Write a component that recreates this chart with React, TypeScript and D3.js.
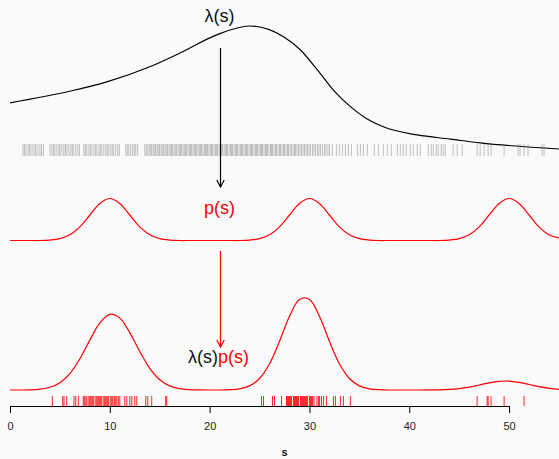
import React, { useEffect, useRef } from 'react';
import * as d3 from 'd3';

// intensity lambda(s)
const lambdaS = [0, 6.1, 9.7, 14, 17.3, 20.7, 24, 27.4, 29.1, 30.8, 32.4, 34.1, 35.7, 37.4, 40.8, 44.1, 47.1, 55];
const lambdaV = [2.8, 3.29, 3.67, 4.3, 4.93, 5.63, 6.0, 5.55, 5.0, 4.17, 3.33, 2.64, 2.15, 1.8, 1.46, 1.29, 1.13, 0.875];

// s grid for the red curves (0..56)
const sGrid = d3.range(0, 57);
const pValues = [
  0, 0, 0, 0, 0.011, 0.044, 0.135, 0.325, 0.607, 0.883, 1, 0.883, 0.607, 0.325, 0.135, 0.044, 0.011,
  0, 0, 0, 0, 0, 0, 0,
  0.011, 0.044, 0.135, 0.325, 0.607, 0.883, 1, 0.883, 0.607, 0.325, 0.135, 0.044, 0.011,
  0, 0, 0, 0, 0, 0, 0,
  0.011, 0.044, 0.135, 0.325, 0.607, 0.883, 1, 0.883, 0.607, 0.325, 0.135, 0.06, 0.02
];
const lpValues = [
  0, 0, 0.1, 0.8, 2.7, 7.3, 16.4, 31.2, 49.9, 67.1, 75.7, 71.9, 57.4, 38.5, 21.7, 10.3, 4.1, 1.4, 0.4, 0.1,
  0, 0, 0.3, 1.2, 4.1, 11.5, 26.2, 48.7, 73.7, 90.6, 90.6, 73.7, 48.7, 26.2, 11.5, 4.1, 1.2, 0.3,
  0, 0, 0, 0, 0.1, 0.2, 0.6, 1.4, 2.9, 5.0, 7.2, 8.7, 8.9, 7.6, 5.5, 3.3, 1.7, 0.7, 0.3
];

// all points of the process (grey rug)
const allPoints = [
  1.3, 1.45, 1.6, 1.8, 1.95, 2.1, 2.3, 2.5, 2.6, 2.8, 3.0, 3.15, 3.35,
  4.0, 4.2, 4.35, 4.5, 4.7, 4.9, 5.0, 5.2, 5.4, 5.55, 5.7, 5.9, 6.1, 6.25, 6.4, 6.6, 6.8, 6.95,
  7.4, 7.55, 7.7, 7.9, 8.05, 8.2, 8.4, 8.55, 8.7, 8.9, 9.05, 9.2, 9.4, 9.6, 9.75, 9.9, 10.1, 10.25,
  10.4, 10.6, 10.8, 10.95, 11.6, 11.75, 11.9, 12.1, 12.3, 12.45, 12.6, 12.8,
  13.5, 13.65, 13.8, 13.95, 14.1, 14.2, 14.35, 14.5, 14.6, 14.75, 14.9, 15.0, 15.15, 15.3, 15.4,
  15.55, 15.7, 15.8, 15.95, 16.1, 16.2, 16.3, 16.45, 16.6, 16.7, 16.85, 17.0, 17.1, 17.2, 17.35,
  17.5, 17.6, 17.7, 17.85, 18.0, 18.1, 18.2, 18.35, 18.5, 18.6, 18.7, 18.85, 19.0, 19.1, 19.2,
  19.35, 19.5, 19.6, 19.7, 19.8, 19.95, 20.1, 20.2, 20.3, 20.45, 20.6, 20.7, 20.8, 20.95, 21.1,
  21.2, 21.3, 21.45, 21.6, 21.7, 21.8, 21.95, 22.1, 22.2, 22.3, 22.45, 22.6, 22.7, 22.8, 22.95,
  23.1, 23.2, 23.3, 23.45, 23.6, 23.7, 23.8, 23.95, 24.1, 24.2, 24.3, 24.45, 24.6, 24.7, 24.8,
  24.95, 25.1, 25.2, 25.3, 25.45, 25.6, 25.7, 25.8, 25.95, 26.1, 26.2, 26.3, 26.45, 26.6, 26.7,
  26.85, 27.0, 27.1, 27.25, 27.4, 27.5, 27.65, 27.8, 27.9, 28.05, 28.2, 28.35, 28.5, 28.6, 28.75,
  28.9, 29.05, 29.2, 29.35, 29.5, 29.65, 29.8, 29.95, 30.1, 30.3, 30.45, 30.6, 30.8, 30.95, 31.1,
  31.3, 31.5, 31.65, 31.85, 32.0,
  32.3, 32.7, 33.0, 33.3, 33.6, 33.9, 34.2, 34.8, 35.1, 35.4, 35.8, 36.5, 36.9, 37.4, 37.8, 38.2,
  38.8, 39.1, 39.4, 39.7, 40.1, 40.4, 40.8, 41.1, 41.9, 42.2, 42.4, 42.7, 42.9, 43.2, 43.4, 43.6,
  44.4, 44.8, 45.3, 46.8, 47.1, 47.5, 47.9, 48.2, 49.5, 50.9, 51.1, 51.5, 51.9, 53.3, 53.5
];

// retained (thinned) points (red rug)
const keptPoints = [
  4.24, 5.28, 5.41, 5.68, 6.41, 6.58, 6.84,
  7.34, 7.45, 7.6, 7.7, 7.9, 8.0, 8.1, 8.2, 8.3, 8.4, 8.6, 8.7, 8.8, 8.9, 9.0, 9.1,
  9.2, 9.4, 9.5, 9.6, 9.7, 9.8, 9.9, 10.1, 10.2, 10.3, 10.45, 10.55, 10.7, 10.85, 11.0,
  11.5, 11.7, 12.0, 12.2, 12.5, 12.7, 13.6, 13.8, 14.2, 15.6, 15.7,
  25.2, 25.4, 26.3, 26.5, 27.2,
  27.7, 27.8, 27.9, 28.0, 28.1, 28.2, 28.4, 28.5, 28.6, 28.7, 28.8, 28.9, 29.1, 29.2,
  29.3, 29.4, 29.5, 29.6, 29.7, 29.8, 30.0, 30.1, 30.2, 30.3, 30.45, 30.75, 30.9, 31.0,
  31.2, 31.4, 31.7,
  32.4, 32.6, 33.1, 33.4, 34.1,
  46.8, 47.8, 47.9, 48.2, 49.5, 51.5
];

const xTicks = [0, 10, 20, 30, 40, 50];
const arrowS = 21;

const W = 559;
const H = 459;
const FONT = '"Liberation Sans", Arial, Helvetica, sans-serif';

const App = () => {
  const axisRef = useRef<SVGGElement>(null);

  const x = d3.scaleLinear().domain([0, 55]).range([10, 559]);
  const yLambda = d3.scaleLinear().domain([0, 6]).range([170, 26]);
  const yP = d3.scaleLinear().domain([0, 1]).range([240.5, 198.5]);
  const yLP = d3.scaleLinear().domain([0, 100]).range([390, 290]);

  const lambdaLine = d3
    .line<number>()
    .x((d, i) => x(lambdaS[i]))
    .y((d) => yLambda(d))
    .curve(d3.curveMonotoneX);

  const gridLine = (yScale: d3.ScaleLinear<number, number>) =>
    d3
      .line<number>()
      .x((d, i) => x(sGrid[i]))
      .y((d) => yScale(d))
      .curve(d3.curveCatmullRom);

  useEffect(() => {
    const g = d3.select(axisRef.current);
    g.call(
      d3
        .axisBottom(x)
        .tickValues(xTicks)
        .tickSize(7)
        .tickSizeOuter(0)
        .tickPadding(9.5)
    );
    g.select('.domain').attr('d', `M${x(0)},0.5H${x(50)}`).attr('stroke', '#000');
    g.selectAll('.tick line').attr('stroke', '#000');
    g.selectAll('.tick text')
      .attr('fill', '#222')
      .style('font-family', FONT)
      .style('font-size', '11px');
  }, []);

  const ax = Math.round(x(arrowS)) + 0.5;
  const head = (tipY: number) => `M${ax - 3.7},${tipY - 7}L${ax},${tipY}L${ax + 3.7},${tipY - 7}`;

  return (
    <svg
      width={W}
      height={H}
      style={{ position: 'absolute', left: 0, top: 0, display: 'block' }}
      fontFamily={FONT}
    >
      <rect width={W} height={H} fill="#fafafa" />

      {/* lambda(s) */}
      <path d={lambdaLine(lambdaV) || ''} fill="none" stroke="#000" strokeWidth={1.2} />
      <text x={x(arrowS)} y={22} textAnchor="middle" fontSize={18} fill="#111">
        λ(s)
      </text>

      {/* grey rug of all points */}
      <g stroke="#777" strokeOpacity={0.45} strokeWidth={1}>
        {allPoints.map((s, i) => (
          <line key={i} x1={x(s)} x2={x(s)} y1={144} y2={156} />
        ))}
      </g>

      {/* arrow lambda -> p */}
      <line x1={ax} x2={ax} y1={48} y2={187} stroke="#000" strokeWidth={1.2} />
      <path d={head(187)} fill="none" stroke="#000" strokeWidth={1.2} />

      {/* p(s) */}
      <path d={gridLine(yP)(pValues) || ''} fill="none" stroke="red" strokeWidth={1.2} />
      <text x={x(arrowS)} y={214} textAnchor="middle" fontSize={18} fill="red">
        p(s)
      </text>

      {/* arrow p -> lambda p */}
      <line x1={ax} x2={ax} y1={251} y2={347} stroke="red" strokeWidth={1.2} />
      <path d={head(347)} fill="none" stroke="red" strokeWidth={1.2} />

      {/* lambda(s) p(s) */}
      <path d={gridLine(yLP)(lpValues) || ''} fill="none" stroke="red" strokeWidth={1.2} />
      <text x={x(arrowS) - 1} y={362.5} textAnchor="middle" fontSize={18}>
        <tspan fill="#111">λ(s)</tspan>
        <tspan fill="red">p(s)</tspan>
      </text>

      {/* red rug of retained points */}
      <g stroke="red" strokeOpacity={0.85} strokeWidth={1}>
        {keptPoints.map((s, i) => (
          <line key={i} x1={x(s)} x2={x(s)} y1={396} y2={406} />
        ))}
      </g>

      <g ref={axisRef} transform="translate(0,406)" />
      <text x={(x(0) + W) / 2} y={456} textAnchor="middle" fontSize={11} fontWeight="bold" fill="#111">
        s
      </text>
    </svg>
  );
};

export default App;
